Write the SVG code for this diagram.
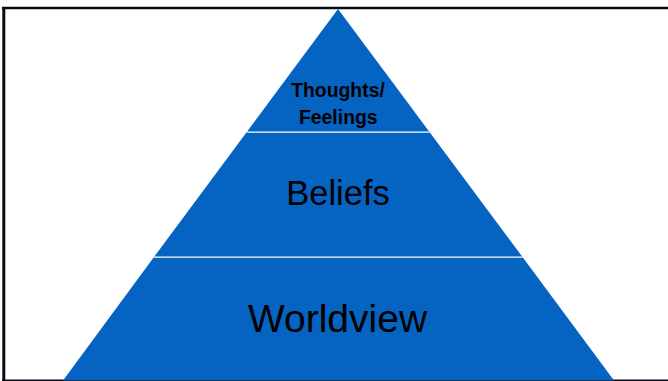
<svg xmlns="http://www.w3.org/2000/svg" width="668" height="381" viewBox="0 0 668 381">
<style>
.layer{fill:#0563C1;}
.sep{stroke:#ffffff;stroke-width:1.2;}
.frame{stroke:#0a0a14;fill:none;}
.lbl{font-family:"Liberation Sans",Arial,sans-serif;fill:#000000;text-anchor:middle;}
.b{font-weight:bold;font-size:19.4px;}
</style>
<rect x="0" y="0" width="668" height="381" fill="#ffffff"/>
<g id="frame">
<line class="frame" x1="2" y1="8" x2="668" y2="8" stroke-width="2.5"/>
<line class="frame" x1="3.8" y1="7" x2="3.8" y2="381" stroke-width="3"/>
<line class="frame" x1="2" y1="380.2" x2="668" y2="380.2" stroke-width="1.6"/>
</g>
<g id="worldview">
<polygon class="layer" points="154,257 63,380.5 614,380.5 522.5,257"/>
<text class="lbl" x="337.5" y="331.5" font-size="39">Worldview</text>
</g>
<g id="beliefs">
<polygon class="layer" points="246.8,132 154,257 522.5,257 429.5,132"/>
<text class="lbl" x="338" y="205" font-size="34.5">Beliefs</text>
</g>
<g id="thoughts">
<polygon class="layer" points="338,9 246.8,132 429.5,132"/>
<text class="lbl b" x="338" y="96.7">Thoughts/</text>
<text class="lbl b" x="338.3" y="124">Feelings</text>
</g>
<g id="connectors">
<line class="sep" x1="246.8" y1="132.2" x2="429.6" y2="132.2"/>
<line class="sep" x1="154" y1="257.2" x2="522.6" y2="257.2"/>
</g>
</svg>
